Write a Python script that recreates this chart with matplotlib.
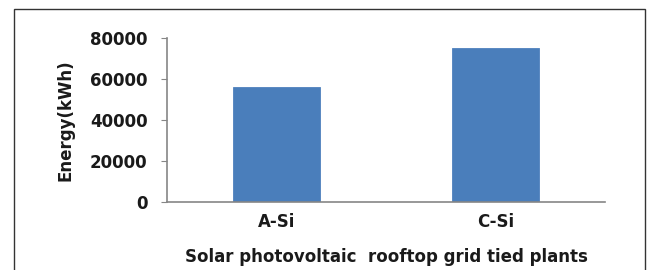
import matplotlib
matplotlib.use("Agg")
import matplotlib.pyplot as plt
from matplotlib.patches import Rectangle

# ---------- DATA ----------
categories = ["A-Si", "C-Si"]
energy = [56000, 75000]
yticks = [0, 20000, 40000, 60000, 80000]

BAR = "#4a7ebb"
AXIS = "#868686"
TXT = "#1a1a1a"
FS = 12

plt.rcParams["font.family"] = ["DejaVu Sans"]

fig = plt.figure(figsize=(6.49, 2.70), dpi=100)

# outer chart frame
fig.patches.append(Rectangle((14 / 649, -0.1), 631 / 649, 1.1 - 9 / 270,
                             transform=fig.transFigure, fill=False,
                             edgecolor="#333333", linewidth=1.0))

ax = fig.add_axes([167 / 649, 1 - 202 / 270, 438 / 649, 164 / 270])
x = range(len(categories))
ax.bar(x, energy, width=0.4, color=BAR, edgecolor="#4f81bd", linewidth=0.6)

ax.set_xlim(-0.5, 1.5)
ax.set_ylim(0, 80000)
ax.set_yticks(yticks)
ax.set_yticklabels([str(v) for v in yticks])
ax.set_xticks(list(x))
ax.set_xticklabels(categories)

for side in ["top", "right"]:
    ax.spines[side].set_visible(False)
for side in ["left", "bottom"]:
    ax.spines[side].set_color(AXIS)
    ax.spines[side].set_linewidth(1.2)

ax.tick_params(axis="y", length=4, color=AXIS, pad=10, labelsize=FS)
ax.tick_params(axis="x", length=0, pad=8, labelsize=FS)
for lab in ax.get_yticklabels() + ax.get_xticklabels():
    lab.set_fontweight("bold")
    lab.set_color(TXT)

ax.set_ylabel("Energy(kWh)", fontsize=FS, fontweight="bold", labelpad=11, color=TXT)
ax.set_xlabel("Solar photovoltaic  rooftop grid tied plants", fontsize=FS,
              fontweight="bold", labelpad=12, color=TXT)

fig.savefig("out.png", dpi=100)
